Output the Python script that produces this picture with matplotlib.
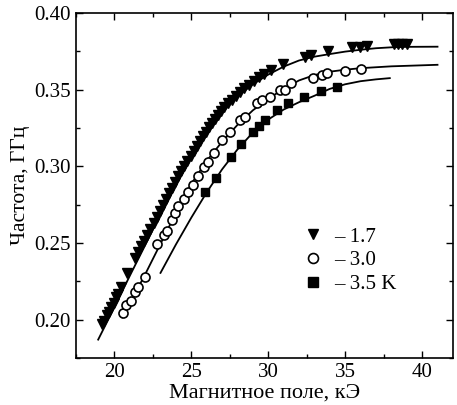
import matplotlib
matplotlib.use("Agg")
import matplotlib.pyplot as plt
from matplotlib.ticker import MultipleLocator

plt.rcParams['font.family'] = ['Liberation Serif', 'DejaVu Serif']

# fitted curves (field kOe, frequency GHz)
fit17_x = [18.95, 20.0, 21.0, 22.0, 23.0, 24.0, 25.0, 26.0, 27.0, 28.0, 29.0, 30.0,
           31.0, 32.0, 33.0, 34.0, 35.0, 36.0, 37.0, 38.0, 39.0, 41.0]
fit17_y = [0.187, 0.208, 0.2285, 0.2485, 0.2685, 0.2877, 0.3057, 0.3215, 0.3350, 0.3455,
           0.3535, 0.3598, 0.3650, 0.3690, 0.3715, 0.3732, 0.3748, 0.3760, 0.3770, 0.3776,
           0.3779, 0.3780]

fit30_x = [20.5, 21.0, 22.0, 23.0, 24.0, 25.0, 26.0, 27.0, 28.0, 29.0, 30.0, 31.0,
           32.0, 33.0, 34.0, 35.0, 36.0, 38.0, 41.0]
fit30_y = [0.2015, 0.2105, 0.2295, 0.2495, 0.2695, 0.2885, 0.3035, 0.3160, 0.3270, 0.3365,
           0.3440, 0.3505, 0.3560, 0.3595, 0.3617, 0.3630, 0.3640, 0.3652, 0.3662]

fit35_x = [23.0, 24.0, 25.0, 26.0, 27.0, 28.0, 29.0, 30.0, 31.0, 32.0, 33.0, 34.0,
           35.0, 36.0, 37.0, 37.9]
fit35_y = [0.2305, 0.2490, 0.2665, 0.2830, 0.2980, 0.3110, 0.3220, 0.3305, 0.3370, 0.3418,
           0.3460, 0.3505, 0.3535, 0.3555, 0.3567, 0.3575]

# measured points
t17_x = [19.20, 19.35, 19.50, 19.65, 19.80, 19.95, 20.10, 20.25, 20.45, 20.85,
         21.35, 21.55, 21.75, 21.95, 22.15, 22.35, 22.55, 22.75, 22.95, 23.15,
         23.35, 23.55, 23.75, 23.95, 24.15, 24.35, 24.55, 24.75, 24.95, 25.15,
         25.35, 25.55, 25.75, 25.95, 26.15, 26.35, 26.55, 26.75, 26.95, 27.15,
         27.40, 27.65, 27.90, 28.15, 28.45, 28.75, 29.05, 29.40, 29.75, 30.20,
         30.95, 32.40, 32.75, 33.90, 35.45, 35.95, 36.40, 38.15, 38.45, 38.70, 39.00]
t17_y = [0.197, 0.199, 0.203, 0.205, 0.2085, 0.211, 0.2145, 0.217, 0.221, 0.2305,
         0.240, 0.244, 0.248, 0.2515, 0.2555, 0.259, 0.263, 0.267, 0.271, 0.275,
         0.2785, 0.2825, 0.286, 0.290, 0.2935, 0.297, 0.300, 0.3035, 0.307, 0.310,
         0.3135, 0.3165, 0.3195, 0.3225, 0.3255, 0.328, 0.331, 0.3335, 0.336, 0.3385,
         0.341, 0.3435, 0.346, 0.3485, 0.351, 0.353, 0.3555, 0.358, 0.360, 0.3625,
         0.3665, 0.3715, 0.3725, 0.3755, 0.3775, 0.378, 0.3785, 0.3795, 0.3795, 0.3795, 0.3795]

c30_x = [20.58, 20.75, 21.10, 21.35, 21.55, 22.00, 22.80, 23.20, 23.45, 23.75,
         23.95, 24.15, 24.50, 24.80, 25.10, 25.45, 25.80, 26.10, 26.50, 27.00,
         27.50, 28.15, 28.50, 29.30, 29.60, 30.10, 30.75, 31.10, 31.50, 32.90,
         33.50, 33.80, 35.00, 36.00]
c30_y = [0.2046, 0.2095, 0.2120, 0.2180, 0.2210, 0.2280, 0.2495, 0.2550, 0.2580, 0.2650,
         0.2695, 0.2740, 0.2785, 0.2835, 0.2880, 0.2935, 0.2995, 0.3025, 0.3090, 0.3170,
         0.3225, 0.3300, 0.3320, 0.3410, 0.3435, 0.3450, 0.3500, 0.3495, 0.3545, 0.3575,
         0.3595, 0.3610, 0.3620, 0.3635]

s35_x = [25.9, 26.6, 27.6, 28.2, 29.0, 29.4, 29.8, 30.6, 31.3, 32.3, 33.4, 34.5]
s35_y = [0.2835, 0.2925, 0.3060, 0.3145, 0.3225, 0.3265, 0.3305, 0.3370, 0.3415,
         0.3450, 0.3490, 0.3520]

labels = ['– 1.7', '– 3.0', '– 3.5 K']

fig = plt.figure(figsize=(4.57, 4.05), dpi=100)
ax = fig.add_axes([0.166, 0.116, 0.825, 0.852])

ax.plot(fit17_x, fit17_y, color='black', lw=1.3)
ax.plot(fit30_x, fit30_y, color='black', lw=1.3)
ax.plot(fit35_x, fit35_y, color='black', lw=1.3)

h1, = ax.plot(t17_x, t17_y, 'v', color='black', ms=6.5, ls='none', label=labels[0])
h2, = ax.plot(c30_x, c30_y, 'o', mfc='white', mec='black', mew=1.2, ms=6.5, ls='none',
              label=labels[1])
h3, = ax.plot(s35_x, s35_y, 's', color='black', ms=6, ls='none', label=labels[2])

ax.set_xlim(17.5, 42)
ax.set_ylim(0.175, 0.40)
ax.xaxis.set_major_locator(MultipleLocator(5))
ax.xaxis.set_minor_locator(MultipleLocator(2.5))
ax.yaxis.set_major_locator(MultipleLocator(0.05))
ax.yaxis.set_minor_locator(MultipleLocator(0.025))
ax.set_yticks([0.20, 0.25, 0.30, 0.35, 0.40])
ax.set_yticklabels(['0.20', '0.25', '0.30', '0.35', '0.40'])
ax.tick_params(which='both', direction='in', top=True, right=True, labelsize=15)
ax.tick_params(which='major', length=5, width=1)
ax.tick_params(which='minor', length=3, width=1)
for s in ax.spines.values():
    s.set_linewidth(1.2)

ax.set_xlabel('Магнитное поле, кЭ', fontsize=16, labelpad=1)
ax.set_ylabel('Частота, ГГц', fontsize=15.5, labelpad=3)

ax.legend(handles=[h1, h2, h3], loc='upper left', bbox_to_anchor=(0.58, 0.41),
          frameon=False, fontsize=15, handlelength=0.8, handletextpad=0.6,
          labelspacing=0.2, markerscale=1.1, borderpad=0)

fig.savefig('out.png', dpi=100)
